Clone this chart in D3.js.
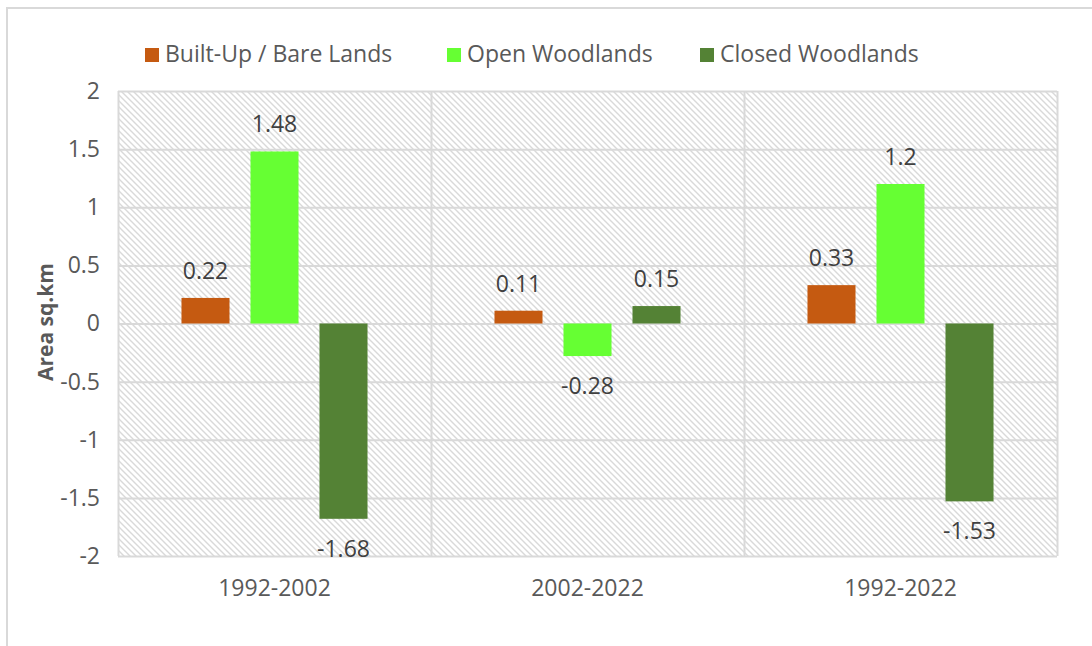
<!DOCTYPE html>
<html><head><meta charset="utf-8">
<script src="https://cdn.jsdelivr.net/npm/d3@7"></script>
<style>body{margin:0;background:#fff;} svg{display:block;font-family:"Open Sans",sans-serif;}</style>
</head><body>
<svg id="c" width="1092" height="646"></svg>
<script>
const categories = ["1992-2002", "2002-2022", "1992-2022"];
const seriesNames = ["Built-Up / Bare Lands", "Open Woodlands", "Closed Woodlands"];
const builtUp = [0.22, 0.11, 0.33];
const openWood = [1.48, -0.28, 1.2];
const closedWood = [-1.68, 0.15, -1.53];
const colors = ["#c55a11", "#66ff33", "#548235"];
const yTicks = [-2, -1.5, -1, -0.5, 0, 0.5, 1, 1.5, 2];

const series = [builtUp, openWood, closedWood];
const svg = d3.select("#c");
const m = {l: 118, r: 1057, t: 91, b: 556};
const FS = 23;

// outer border
svg.append("rect").attr("x", 7).attr("y", 8).attr("width", 1100).attr("height", 660)
  .attr("fill", "#fff").attr("stroke", "#d9d9d9").attr("stroke-width", 2);

// hatch pattern
const defs = svg.append("defs");
const pat = defs.append("pattern").attr("id", "hatch").attr("patternUnits", "userSpaceOnUse")
  .attr("width", 6).attr("height", 6);
pat.append("rect").attr("width", 6).attr("height", 6).attr("fill", "#fff");
pat.append("path").attr("d", "M-1,-1 L7,7 M-1,5 L1,7 M5,-1 L7,1")
  .attr("stroke", "#d9d9d9").attr("stroke-width", 1.4);

const x0 = d3.scaleBand().domain(categories).range([m.l, m.r]).paddingInner(0).paddingOuter(0);
const y = d3.scaleLinear().domain([-2, 2]).range([m.b, m.t]);
const x1 = d3.scaleBand().domain(d3.range(3)).range([0, x0.bandwidth()]).paddingInner(0.304).paddingOuter(0.92);

svg.append("rect").attr("x", m.l).attr("y", m.t).attr("width", m.r - m.l).attr("height", m.b - m.t)
  .attr("fill", "url(#hatch)");

// gridlines
const gridY = svg.append("g").attr("transform", `translate(${m.l},0)`)
  .call(d3.axisLeft(y).tickValues(yTicks).tickSize(-(m.r - m.l)).tickFormat(""));
gridY.select(".domain").remove();
gridY.selectAll("line").attr("stroke", "#d9d9d9").attr("stroke-width", 2);

const gridX = svg.append("g").attr("transform", `translate(0,${m.t})`)
  .call(d3.axisTop(d3.scaleLinear().domain([0, 3]).range([m.l, m.r])).tickValues([0, 1, 2, 3]).tickSize(-(m.b - m.t)).tickFormat(""));
gridX.select(".domain").remove();
gridX.selectAll("line").attr("stroke", "#d9d9d9").attr("stroke-width", 2);

// y tick labels
const yAx = svg.append("g").attr("transform", `translate(${m.l},0)`)
  .call(d3.axisLeft(y).tickValues(yTicks).tickSize(0).tickPadding(18).tickFormat(d => String(d)));
yAx.select(".domain").remove();
yAx.selectAll("text").attr("fill", "#595959").attr("font-size", FS).attr("font-family", "'Open Sans',sans-serif");

// x labels
const xAx = svg.append("g").attr("transform", `translate(0,${m.b})`)
  .call(d3.axisBottom(x0).tickSize(0).tickPadding(24));
xAx.select(".domain").remove();
xAx.selectAll("text").attr("fill", "#595959").attr("font-size", FS).attr("font-family", "'Open Sans',sans-serif");

// bars
const groups = svg.append("g").selectAll("g").data(categories).join("g")
  .attr("transform", d => `translate(${x0(d)},0)`);
groups.each(function(cat, ci) {
  const g = d3.select(this);
  series.forEach((s, si) => {
    const v = s[ci];
    g.append("rect").attr("x", x1(si)).attr("width", x1.bandwidth())
      .attr("y", y(Math.max(0, v))).attr("height", Math.abs(y(v) - y(0)))
      .attr("fill", colors[si]);
    g.append("text").attr("x", x1(si) + x1.bandwidth() / 2)
      .attr("y", v >= 0 ? y(v) - 19 : y(v) + 38)
      .attr("text-anchor", "middle").attr("font-size", FS).attr("fill", "#404040")
      .text(String(v));
  });
});

// y axis title
svg.append("text").attr("transform", "translate(53,322) rotate(-90)")
  .attr("text-anchor", "middle").attr("font-size", 21).attr("font-weight", "bold")
  .attr("fill", "#595959").text("Area sq.km");

// legend
const legX = [145, 447, 700];
const leg = svg.append("g");
seriesNames.forEach((n, i) => {
  leg.append("rect").attr("x", legX[i]).attr("y", 48).attr("width", 14).attr("height", 14).attr("fill", colors[i]);
  leg.append("text").attr("x", legX[i] + 20).attr("y", 62).attr("font-size", FS).attr("fill", "#595959").text(n);
});
</script>
</body></html>
